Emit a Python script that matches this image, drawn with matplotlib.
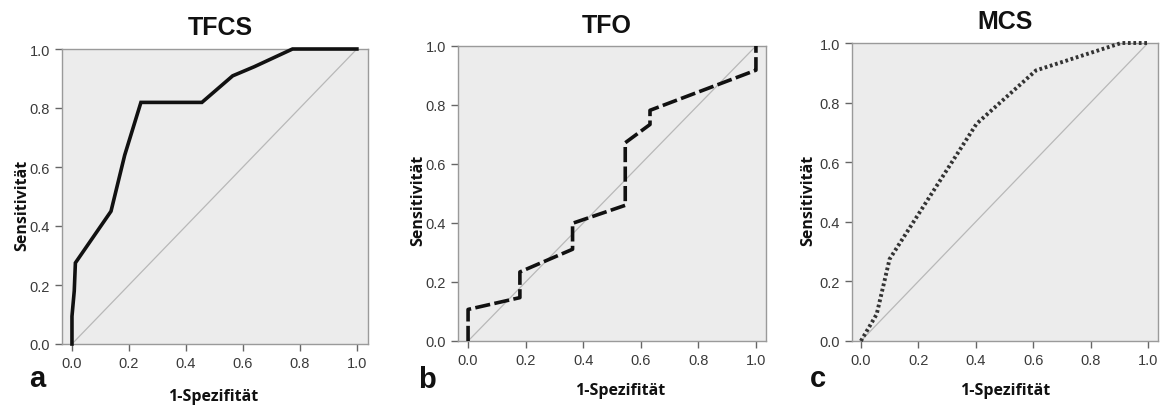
import matplotlib
matplotlib.use("Agg")
import matplotlib.pyplot as plt

W, H = 1163, 406

# TFCS (solid)
tfcs_x = [0.0, 0.0, 0.008, 0.012, 0.137, 0.185, 0.242, 0.456, 0.564, 0.64, 0.774, 1.0]
tfcs_y = [0.0, 0.094, 0.18, 0.275, 0.45, 0.64, 0.819, 0.819, 0.909, 0.94, 1.0, 1.0]
# TFO (dashed)
tfo_x = [0.0, 0.0, 0.18, 0.18, 0.363, 0.363, 0.546, 0.546, 0.632, 0.632, 1.0, 1.0]
tfo_y = [0.0, 0.107, 0.147, 0.234, 0.311, 0.399, 0.46, 0.672, 0.734, 0.782, 0.918, 1.0]
# MCS (dotted)
mcs_x = [0.0, 0.055, 0.10, 0.403, 0.61, 0.907, 1.0]
mcs_y = [0.0, 0.09, 0.275, 0.729, 0.908, 1.0, 1.0]

titles = ["TFCS", "TFO", "MCS"]
letters = ["a", "b", "c"]
ticks = [0.0, 0.2, 0.4, 0.6, 0.8, 1.0]
tick_labels = ["0.0", "0.2", "0.4", "0.6", "0.8", "1.0"]

fig = plt.figure(figsize=(W / 100, H / 100), dpi=100)
fig.patch.set_facecolor("white")

# pixel boxes: left, right, top, bottom
boxes = [(62, 368, 50, 345), (458, 766, 47, 342), (852, 1158, 44, 342)]
xlims = [(-0.035, 1.039), (-0.035, 1.035), (-0.031, 1.035)]
series = [(tfcs_x, tfcs_y, "-"), (tfo_x, tfo_y, (0, (4.2, 1.2))), (mcs_x, mcs_y, (0, (0.7, 0.7)))]
title_pos = [(220, 28), (607, 26), (1005, 22)]
ylab_pos = [(22, 205), (418, 200), (808, 200)]
letter_pos = [(29, 387), (418, 388), (810, 387)]
xlab_pos = [(213, 397), (620, 391), (1005, 391)]

for i in range(3):
    l, r, t, b = boxes[i]
    ax = fig.add_axes([l / W, 1 - b / H, (r - l) / W, (b - t) / H])
    ax.set_facecolor("#ececec")
    ax.set_xlim(*xlims[i])
    ax.set_ylim(0, 1)
    ax.plot([0, 1], [0, 1], color="#b8b8b8", lw=0.9, zorder=2)
    xs, ys, ls = series[i]
    lw = 2.6 if i != 2 else 2.8
    col = "#111111" if i != 2 else "#333333"
    ax.plot(xs, ys, color=col, lw=lw, ls=ls, zorder=3, solid_joinstyle="miter",
            dash_capstyle="butt", clip_on=False)
    for s in ax.spines.values():
        s.set_color("#9a9a9a")
        s.set_linewidth(1.0)
    ax.set_xticks(ticks)
    ax.set_xticklabels(tick_labels)
    ax.set_yticks(ticks)
    ax.set_yticklabels(tick_labels)
    ax.tick_params(direction="out", length=5, width=1, color="#666666",
                   labelcolor="#3a3a3a", labelsize=10.5, pad=3.5)
    for lab in ax.get_xticklabels() + ax.get_yticklabels():
        lab.set_family("Liberation Sans")

    tx, ty = title_pos[i]
    fig.text(tx / W, 1 - ty / H, titles[i], ha="center", va="center",
             fontsize=18, fontweight="bold", family="Liberation Sans", color="#111111")
    yx, yy = ylab_pos[i]
    fig.text(yx / W, 1 - yy / H, "Sensitivität", rotation=90, ha="center", va="center",
             fontsize=11.5, fontweight="bold", family="Open Sans", color="#111111")
    lx, ly = letter_pos[i]
    fig.text(lx / W, 1 - ly / H, letters[i], ha="left", va="baseline",
             fontsize=21, fontweight="bold", family="Liberation Sans", color="#111111")
    xx, xy = xlab_pos[i]
    fig.text(xx / W, 1 - xy / H, "1-Spezifität", ha="center", va="center",
             fontsize=11.5, fontweight="bold", family="Open Sans", color="#111111")

fig.savefig("out.png", dpi=100)
